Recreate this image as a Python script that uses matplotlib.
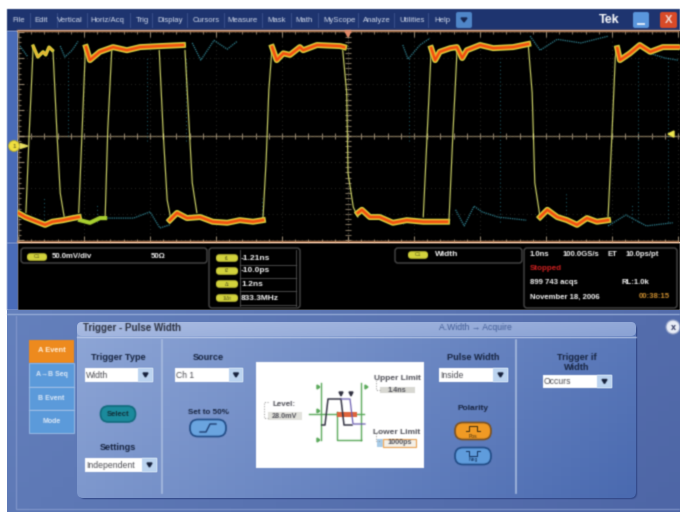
import numpy as np
import matplotlib
matplotlib.use('Agg')
import matplotlib.pyplot as plt
from matplotlib.patches import Rectangle, FancyBboxPatch, Circle, Polygon, Patch
from matplotlib.lines import Line2D
from matplotlib.text import Text
from matplotlib.collections import LineCollection

# Traza principal: tiempos en ns, tension en mV
low_t = [[-5.0, -4.89, -4.71, -4.59, -4.48, -4.32, -4.17, -4.08],
         [-2.70, -2.59, -2.44, -2.24, -2.05, -1.83, -1.64, -1.44, -1.29],
         [0.15, 0.21, 0.33, 0.48, 0.68, 0.89, 1.14, 1.50],
         [2.91, 3.02, 3.17, 3.32, 3.47, 3.62, 3.77, 3.94]]
low_v = [[-148, -156, -165, -171, -165, -162, -158, -156],
         [-162, -148, -158, -156, -165, -167, -162, -165, -162],
         [-148, -142, -156, -156, -167, -162, -165, -165],
         [-156, -142, -156, -162, -171, -158, -165, -162]]
high_t = [[-3.97, -3.91, -3.76, -3.56, -3.35, -3.15, -2.85, -2.50],
          [-1.15, -1.08, -0.98, -0.88, -0.73, -0.68, -0.47, -0.12, -0.06],
          [1.26, 1.32, 1.39, 1.55, 1.65, 1.73, 1.80, 2.00, 2.20, 2.50, 2.73],
          [4.08, 4.12, 4.27, 4.42, 4.58, 4.77, 5.03]]
high_v = [[171, 146, 162, 171, 165, 171, 173, 175],
          [171, 146, 159, 156, 171, 165, 175, 173, 171],
          [169, 146, 162, 169, 171, 150, 165, 175, 169, 171, 177],
          [169, 146, 159, 175, 162, 171, 171]]

# Pulso corto del principio
bump_t = [-4.77, -4.70, -4.62, -4.58, -4.53, -4.48]
bump_v = [173, 152, 162, 156, 171, 165]
green_t = [-4.06, -3.91, -3.76, -3.68]
green_v = [-162, -167, -158, -158]

# Flancos finos
edge_t = [[-4.88, -4.83, -4.77], [-4.47, -4.41, -4.36, -4.30], [-4.08, -4.03, -3.98],
          [-3.68, -3.64, -3.58], [-2.86, -2.80, -2.74, -2.68], [-2.47, -2.42, -2.36, -2.29],
          [-1.29, -1.24, -1.20, -1.15], [-0.08, -0.02, 0.0, 0.08, 0.15],
          [1.14, 1.20, 1.26], [1.53, 1.59, 1.65], [2.73, 2.79, 2.83, 2.91],
          [3.94, 4.00, 4.05, 4.08]]
edge_v = [[-148, 6, 171], [165, 6, -110, -156], [-148, 6, 165],
          [-158, 12, 165], [165, 6, -123, -162], [165, 50, -90, -148],
          [-162, -46, 88, 171], [165, 83, -71, -137, -156],
          [-156, 6, 165], [-162, 6, 160], [177, 83, -90, -156],
          [-156, 6, 152, 169]]

# Trazas fantasma (persistencia baja)
ghost_t = [[-4.97, -4.85], [-4.36, -4.29, -4.18, -4.09], [-2.36, -2.23, -2.03, -1.83, -1.68],
           [0.83, 0.91, 1.09, 1.24], [2.76, 2.91, 3.17, 3.53, 3.94],
           [-3.65, -3.25, -3.0, -2.85, -2.7], [1.63, 1.76, 1.91, 2.03, 2.27, 2.7],
           [3.94, 4.21, 4.52, 4.92], [4.55, 4.8, 5.0]]
ghost_v = [[173, 152], [173, 152, 165, 182], [179, 146, 184, 167, 182],
           [175, 148, 175, 188], [192, 165, 186, 179, 192],
           [-158, -158, -146, -177, -171], [-142, -173, -135, -146, -156, -162],
           [-173, -152, -173, -167], [160, 150, 146]]
ghost_edge_t = [-4.6, -4.25, -3.05, -3.8, -2.45, -1.3, 0.92, 0.83, 2.3, 3.3, 4.4, 4.3, 4.85]
ghost_top = [-120, 150, 150, -130, 150, -120, 150, -160, 150, -110, 150, -130, 150]
ghost_bot = [-160, 0, -10, -165, -10, -165, -10, -170, -165, -165, -165, -165, -165]

menu_names = ['File', 'Edit', 'Vertical', 'Horiz/Acq', 'Trig', 'Display', 'Cursors',
              'Measure', 'Mask', 'Math', 'MyScope', 'Analyze', 'Utilities', 'Help']
menu_x = [19, 41, 70, 107, 142, 170, 206, 243, 277, 304, 340, 377, 412, 442]
tab_names = ['A Event', 'A\u2192B Seq', 'B Event', 'Mode']
cursor_labels = ['t1', 't2', '\u0394t', '1/\u0394t']
cursor_values = ['-1.21ns', '-10.0ps', '1.2ns', '833.3MHz']

fig = plt.figure(figsize=(6.8, 5.12), dpi=100, facecolor='white')
plt.rcParams['font.family'] = ['Liberation Sans', 'DejaVu Sans']

ax = fig.add_axes([0, 0, 1, 1])
ax.set_xlim(0, 680)
ax.set_ylim(512, 0)
ax.axis('off')


def soften(im, dpi):
    # la captura original esta borrosa
    pad = 3
    im = np.pad(im, [(pad, pad), (pad, pad), (0, 0)])
    a = im[..., 3:]
    pm = np.concatenate([im[..., :3] * a, a], axis=2)
    for axis in (0, 1):
        pm = 0.2 * np.roll(pm, 1, axis) + 0.6 * pm + 0.2 * np.roll(pm, -1, axis)
    a2 = np.maximum(pm[..., 3:], 1e-4)
    out = np.concatenate([np.clip(pm[..., :3] / a2, 0, 1), pm[..., 3:]], axis=2)
    return out, -pad, -pad


def rect(x0, y0, x1, y1, color, **kw):
    ax.add_patch(Rectangle((x0, y0), x1 - x0, y1 - y0, facecolor=color, edgecolor=kw.pop('ec', 'none'), **kw))


def rounded(x0, y0, x1, y1, fc, ec='none', r=3, lw=1, **kw):
    p = FancyBboxPatch((x0 + r, y0 + r), x1 - x0 - 2 * r, y1 - y0 - 2 * r,
                       boxstyle='round,pad=%g,rounding_size=%g' % (r, r),
                       facecolor=fc, edgecolor=ec, linewidth=lw, **kw)
    ax.add_patch(p)
    return p


def label(x, y, s, size=5.6, color='#f4f4f4', weight='normal', ha='left', **kw):
    ax.text(x, y, s, fontsize=size, color=color, fontweight=weight, ha=ha, va='center', **kw)


def gradient(x0, y0, x1, y1, c0, c1, clip=None, zorder=1):
    c0 = np.array(matplotlib.colors.to_rgb(c0))
    c1 = np.array(matplotlib.colors.to_rgb(c1))
    xx, yy = np.meshgrid(np.linspace(0, 1, 60), np.linspace(0, 1, 40))
    f = (0.75 * xx + 0.25 * yy)[..., None]
    im = ax.imshow(c0 + (c1 - c0) * f, extent=[x0, x1, y1, y0], aspect='auto', zorder=zorder)
    if clip is not None:
        im.set_clip_path(clip)
    ax.set_xlim(0, 680)
    ax.set_ylim(512, 0)


def dropdown(x0, x1, arrow_x, y0, y1, s):
    rect(x0, y0, x1, y1, 'white', zorder=4)
    rect(arrow_x, y0, x1, y1, '#bcd4f0', zorder=4)
    label(x0 + 1, (y0 + y1) / 2, s, size=6.2, color='#4a4a50', zorder=5)
    ax.add_patch(Polygon([[(arrow_x + x1) / 2 - 2.5, (y0 + y1) / 2 - 2], [(arrow_x + x1) / 2 + 2.5, (y0 + y1) / 2 - 2],
                          [(arrow_x + x1) / 2, (y0 + y1) / 2 + 2]], color='#15203a', zorder=5))


def pill(cx, cy, s, w=22, h=7.5):
    rounded(cx - w / 2, cy - h / 2, cx + w / 2, cy + h / 2, '#d2d23c', r=3.5, zorder=5)
    label(cx, cy, s, size=3.6, color='#55551a', ha='center', zorder=6)


def button(cx, cy, fc, ec, w=36, h=17):
    rounded(cx - w / 2, cy - h / 2, cx + w / 2, cy + h / 2, fc, ec=ec, r=8, lw=1.2, zorder=4)


# Fondo de la ventana
rect(7, 9, 680, 31, '#1e3470', zorder=1)
rect(7, 31, 18, 243, '#4a6cb8', zorder=1)
rect(7, 243, 18, 310, '#4a6cb8', zorder=1)
rect(18, 243, 680, 310, 'black', zorder=1)
gradient(7, 310, 680, 512, '#6480bc', '#4e66a6', zorder=1)
ax.plot([7, 680], [314, 314], color='#9fb4dc', lw=0.8, zorder=2)
ax.plot([16, 16, 680], [316, 509, 509], color='#8298cc', lw=0.8, zorder=2)

# Menu
for name, mx in zip(menu_names, menu_x):
    label(mx, 20, name, size=5.6, color='#d4dcec', ha='center', zorder=3)
for sx in [30, 57, 87, 130, 152, 187, 224, 262, 291, 318, 358, 394, 428]:
    ax.plot([sx, sx], [13, 27], color='#3f5590', lw=0.6, zorder=2)
rounded(456, 12, 472, 28, '#4f86c8', r=2, zorder=3)
ax.add_patch(Polygon([[461, 18], [467, 18], [464, 22]], color='#15254f', zorder=4))
label(609, 20, 'Tek', size=9, color='white', weight='bold', ha='center', zorder=3)
rounded(633, 12, 649, 28, '#5a96dc', r=2, zorder=3)
rect(637, 23, 645, 25, '#dfe9f8', zorder=4)
rounded(660, 12, 677, 28, '#d84a28', r=2, zorder=3)
label(668.5, 20, 'X', size=8, color='#f4e0d8', weight='bold', ha='center', zorder=4)

# Lecturas
for x0, y0, x1, y1 in [(21, 248, 207, 263), (209, 248, 300, 308), (395, 248, 522, 263), (524, 248, 677, 308)]:
    rounded(x0, y0, x1, y1, 'black', ec='#4a4a4a', r=3, lw=1, zorder=2)
pill(37, 257, 'C1', w=20)
label(52, 256, '50.0mV/div', weight='bold', zorder=3)
label(151, 256, '50\u03a9', weight='bold', zorder=3)
for i, yy in enumerate([258, 271, 284, 298]):
    pill(227, yy, cursor_labels[i])
    label(241, yy, cursor_values[i], size=6, weight='bold', zorder=3)
    ax.plot([240, 296], [yy + 6.5, yy + 6.5], color='#4a4a4a', lw=0.7, zorder=3)
ax.plot([240, 240], [250, 306], color='#4a4a4a', lw=0.7, zorder=3)
ax.plot([296, 296], [250, 306], color='#4a4a4a', lw=0.7, zorder=3)
pill(418, 255, 'C1', w=20)
label(435, 255, 'Width', size=6, weight='bold', zorder=3)
label(530, 255, '1.0ns', size=5.6, weight='bold', zorder=3)
label(563, 255, '100.0GS/s', size=5.6, weight='bold', zorder=3)
label(608, 255, 'ET', size=5.6, weight='bold', zorder=3)
label(626, 255, '10.0ps/pt', size=5.6, weight='bold', zorder=3)
label(530, 269, 'Stopped', size=5.8, color='#d02020', weight='bold', zorder=3)
label(530, 283, '899 743 acqs', size=5.6, weight='bold', zorder=3)
label(622, 283, 'RL:1.0k', size=5.6, weight='bold', zorder=3)
label(530, 297, 'November 18, 2006', size=5.6, weight='bold', zorder=3)
label(639, 297, '00:38:15', size=5.6, color='#d09030', weight='bold', zorder=3)

# Panel de disparo
panel = rounded(77, 322, 636, 498, 'none', r=6, zorder=2)
ax.add_patch(FancyBboxPatch((79, 324), 558, 175, boxstyle='round,pad=0,rounding_size=6',
                            facecolor='#2f4686', edgecolor='none', zorder=1.5))
gradient(77, 322, 636, 498, '#8ea6d6', '#4a6ab0', clip=panel, zorder=2)
title_bar = rounded(77, 322, 636, 336, 'none', r=5, zorder=2.5)
gradient(77, 322, 636, 337, '#aabce2', '#8aa2d4', clip=title_bar, zorder=2.5)
ax.plot([77, 636], [336.5, 336.5], color='#c4d2ee', lw=0.8, zorder=3)
label(83, 328, 'Trigger - Pulse Width', size=7, color='#2a3040', weight='bold', zorder=4)
label(475, 328, 'A.Width \u2192 Acquire', size=6.2, color='#3f5a94', ha='center', zorder=4)
ax.add_patch(Circle((673, 327), 7, facecolor='#e8ecf6', edgecolor='#8d9cc4', lw=0.8, zorder=4))
label(673, 327, 'x', size=6.5, color='#28305a', weight='bold', ha='center', zorder=5)

rect(29, 340, 74, 363, '#ee8a1e', zorder=3)
for y0, y1, s in zip([363, 387, 410], [387, 410, 433], tab_names[1:]):
    rect(29, y0, 74, y1, '#5b9ada', ec='#a4c4ea', lw=0.6, zorder=3)
    label(51.5, (y0 + y1) / 2, s, size=5, color='#dde9f8', weight='bold', ha='center', zorder=4)
label(51.5, 351, tab_names[0], size=5.4, color='#fff0dc', weight='bold', ha='center', zorder=4)

for dx in [162, 516]:
    ax.plot([dx, dx], [340, 493], color='#a9bce0', lw=1.2, zorder=3)

title_color = '#16233f'
label(118, 358, 'Trigger Type', size=6.6, color=title_color, weight='bold', ha='center', zorder=4)
dropdown(85, 153, 138, 368, 382, 'Width')
button(118, 414, '#1c8a9c', '#0f6a7c', w=35, h=16)
label(118, 414, 'Select', size=5.6, color='#10303a', weight='bold', ha='center', zorder=5)
label(118, 448, 'Settings', size=6.6, color=title_color, weight='bold', ha='center', zorder=4)
dropdown(85, 157, 142, 458, 472, 'Independent')

label(208, 358, 'Source', size=6.6, color=title_color, weight='bold', ha='center', zorder=4)
dropdown(175, 243, 229, 368, 382, 'Ch 1')
label(208, 412, 'Set to 50%', size=5.8, color=title_color, weight='bold', ha='center', zorder=4)
button(208, 428, '#6aa4e0', '#1f4a84')
ax.plot([200, 206, 210, 216], [432, 432, 424, 424], color='#1c3c70', lw=1, zorder=5)

label(473, 358, 'Pulse Width', size=6.6, color=title_color, weight='bold', ha='center', zorder=4)
dropdown(439, 508, 493, 368, 382, 'Inside')
label(473, 408, 'Polarity', size=6, color=title_color, weight='bold', ha='center', zorder=4)
button(473, 431, '#f09a24', '#7a5020')
button(473, 456, '#5f9cdc', '#1f4a84')
ax.plot([466, 469, 469, 477, 477, 480], [431, 431, 426, 426, 431, 431], color='#3a2a10', lw=0.7, zorder=5)
ax.plot([466, 469, 469, 477, 477, 480], [451, 451, 456, 456, 451, 451], color='#12305c', lw=0.7, zorder=5)
label(473, 436, 'Pos', size=3.6, color='#3a2a10', ha='center', zorder=5)
label(473, 460, 'Neg', size=3.6, color='#12305c', ha='center', zorder=5)
label(577, 358, 'Trigger if', size=6.6, color=title_color, weight='bold', ha='center', zorder=4)
label(577, 368, 'Width', size=6.6, color=title_color, weight='bold', ha='center', zorder=4)
dropdown(543, 612, 597, 375, 388, 'Occurs')

# Diagrama del pulso
rect(256, 362, 424, 468, 'white', zorder=3)
green = '#58a858'
ax.plot([321, 321], [383, 440], color=green, lw=1, zorder=4)
ax.plot([361, 361], [383, 440], color=green, lw=1, zorder=4)
ax.plot([309, 364], [414, 414], color=green, lw=1, zorder=4)
ax.plot([337, 337, 361], [412, 440, 440], color=green, lw=1, zorder=4)
rect(337, 412, 357, 417, '#e0643c', zorder=5)
ax.plot([322, 325, 328, 341, 344, 352], [425, 425, 399, 399, 425, 425], color='#303040', lw=1.1, zorder=6)
ax.plot([341, 350, 353, 365], [399, 399, 424, 424], color='#6a5cb0', lw=0.9, zorder=6)
for tx in [341, 351]:
    ax.add_patch(Polygon([[tx - 2, 392], [tx + 2, 392], [tx, 396]], color='#303040', zorder=6))
for gx, gy in [(317, 387), (317, 440), (365, 387), (317, 411)]:
    ax.add_patch(Polygon([[gx, gy - 2], [gx, gy + 2], [gx + 3, gy]], color=green, zorder=5))
label(284, 405, 'Level:', size=5.8, color='#505058', weight='bold', ha='center', zorder=5)
rect(268, 412, 302, 420, '#e2e2dc', zorder=5)
label(285, 416, '28.0mV', size=5.2, color='#505058', weight='bold', ha='center', zorder=6)
label(397, 379, 'Upper Limit', size=6, color='#505058', weight='bold', ha='center', zorder=5)
rect(380, 387, 415, 393, '#d8d8d2', zorder=5)
label(397, 390, '1.4ns', size=5.2, color='#505058', weight='bold', ha='center', zorder=6)
label(397, 432, 'Lower Limit', size=6, color='#505058', weight='bold', ha='center', zorder=5)
rect(377, 439, 383, 447, '#a8cce8', zorder=5)
rect(383, 439, 416, 447, '#f4f0e8', ec='#e8a050', lw=0.8, zorder=5)
label(399.5, 443, '1000ps', size=5.2, color='#505058', weight='bold', ha='center', zorder=6)
ax.plot([268, 264, 264, 268], [402, 402, 418, 418], color='#909090', lw=0.7, ls=':', zorder=5)
ax.plot([380, 376, 376, 380], [379, 379, 390, 390], color='#909090', lw=0.7, ls=':', zorder=5)
ax.plot([380, 376, 376, 380], [432, 432, 441, 441], color='#909090', lw=0.7, ls=':', zorder=5)

# Pantalla del osciloscopio
scope = fig.add_axes([18 / 680, 1 - 242 / 512, 662 / 680, 211 / 512], facecolor='black')
scope.set_xlim(-5, 5.03)
scope.set_ylim(-204, 202)
scope.set_xticks(np.arange(-5, 5.01, 1))
scope.set_xticks(np.arange(-5, 5.01, 0.2), minor=True)
scope.set_yticks(np.arange(-200, 201, 50))
scope.set_yticks(np.arange(-200, 201, 10), minor=True)
scope.set_xticklabels([])
scope.set_yticklabels([])
tick_color = '#a09078'
scope.tick_params(which='major', direction='in', length=4, width=0.7, color=tick_color, top=True, bottom=True, left=True, right=False)
scope.tick_params(which='minor', direction='in', length=2, width=0.6, color=tick_color, top=True, bottom=True, left=True, right=False)
scope.grid(True, which='major', color='#3a3a34', lw=0.6, ls=(0, (1, 4)))
for side in ['top', 'bottom']:
    scope.spines[side].set_color('#e0a070')
    scope.spines[side].set_linewidth(1.4)
scope.spines['left'].set_color('#a89880')
scope.spines['right'].set_visible(False)

scope.axhline(0, color='#8a7a5e', lw=0.9, zorder=1)
scope.axvline(0, color='#5c5648', lw=0.7, ls=(0, (1, 2)), zorder=1)
scope.plot(np.arange(-5, 5.01, 0.2), np.zeros(51), ls='none', marker='|', ms=4, mew=0.7, color='#a09078', zorder=1)
scope.plot(np.zeros(41), np.arange(-200, 201, 10), ls='none', marker='_', ms=4, mew=0.6, color='#a09078', zorder=1)

for t, v in zip(ghost_t, ghost_v):
    scope.plot(t, v, color='#348c9c', lw=0.9, ls=(0, (1, 0.8)), zorder=2)
scope.vlines(ghost_edge_t, ghost_bot, ghost_top, color='#246a78', lw=0.7, ls=(0, (1, 3)), zorder=2)

for t, v in zip(edge_t, edge_v):
    scope.plot(t, v, color='#d2d86a', lw=0.85, zorder=3, solid_capstyle='round')
scope.plot(green_t, green_v, color='#a8d030', lw=3, zorder=3)
scope.plot(bump_t, bump_v, color='#c8d040', lw=2.4, zorder=3)
scope.plot(bump_t, bump_v, color='#eab030', lw=1.2, zorder=4)
for t, v in zip(low_t + high_t, low_v + high_v):
    scope.plot(t, v, color='#b8cc48', lw=4.2, zorder=4, solid_joinstyle='round')
    scope.plot(t, v, color='#f2a826', lw=3.2, zorder=5, solid_joinstyle='round')
    scope.plot(t, v, color='#f04a10', lw=1.6, zorder=6, solid_joinstyle='round')

# Marcadores de canal y de disparo
marks = fig.add_axes([0, 0, 1, 1], facecolor='none')
marks.set_xlim(0, 680)
marks.set_ylim(512, 0)
marks.axis('off')
marks.add_patch(Circle((14, 146), 5.5, facecolor='#f0e040', edgecolor='#b0a020', lw=0.5))
marks.add_patch(Polygon([[20, 143.5], [20, 148.5], [28, 146]], color='#e8e060'))
marks.text(14, 146, '1', fontsize=4.5, color='#444010', ha='center', va='center')
marks.add_patch(Polygon([[348, 37], [345, 31], [351, 31]], color='#e08868'))
marks.add_patch(Polygon([[674, 131], [674, 137], [668, 134]], color='#f0e850'))

skip = [fig.patch, ax.patch, scope.patch, marks.patch]
for art in fig.findobj(lambda o: isinstance(o, (Text, Line2D, Patch, LineCollection))):
    if not any(art is s for s in skip):
        art.set_agg_filter(soften)

fig.savefig('out.png', dpi=100, facecolor='white')
